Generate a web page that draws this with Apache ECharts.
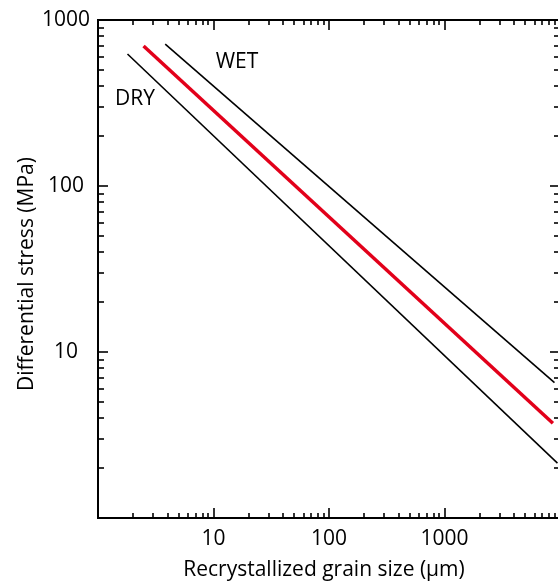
<!DOCTYPE html>
<html>
<head>
<meta charset="utf-8">
<script src="https://cdn.jsdelivr.net/npm/echarts@6/dist/echarts.min.js"></script>
<style>
  html, body { margin: 0; padding: 0; background: #fff; }
  #chart { width: 558px; height: 581px; }
</style>
</head>
<body>
<div id="chart"></div>
<script>
// Grain-size piezometer lines (log-log), end points [grain size µm, stress MPa]
const dryLine = [[1.80, 624], [9510, 2.14]];
const meanLine = [[2.48, 697], [8680, 3.72]];
const wetLine = [[3.82, 716], [8960, 6.53]];

// Axis ranges and labelled ticks
const xRange = [1, 10000];
const yRange = [1, 1000];
const xMajorTicks = [10, 100, 1000];
const yMajorTicks = [10, 100, 1000];

// Minor ticks at 2..9 of every decade inside a range
function minorTicks(lo, hi) {
  const out = [];
  for (let d = lo; d < hi; d *= 10) {
    for (let k = 2; k <= 9; k++) out.push(k * d);
  }
  return out;
}
const xMinorTicks = minorTicks(xRange[0], xRange[1]);
const yMinorTicks = minorTicks(yRange[0], yRange[1]);

const FONT = 'Open Sans';
const FS = 21;
const gridBox = { left: 98, right: -2, top: 20, bottom: 63, containLabel: false, outerBoundsMode: 'none' };

function logAxis(range, gridIndex, position, ticks, len, opts) {
  return Object.assign({
    type: 'log', logBase: 10, gridIndex, position,
    min: range[0], max: range[1],
    axisLine: { show: true, lineStyle: { color: '#000', width: 2 } },
    axisTick: { show: true, inside: true, length: len, customValues: ticks,
                lineStyle: { color: '#000', width: 1.6 } },
    axisLabel: { show: false },
    splitLine: { show: false },
    minorTick: { show: false }
  }, opts || {});
}

const chart = echarts.init(document.getElementById('chart'), null, { renderer: 'canvas' });

chart.setOption({
  animation: false,
  backgroundColor: '#fff',
  grid: [Object.assign({}, gridBox), Object.assign({}, gridBox)],
  xAxis: [
    logAxis(xRange, 0, 'bottom', xMajorTicks, 10, {
      axisLabel: {
        show: true, customValues: xMajorTicks, margin: 11,
        color: '#000', fontFamily: FONT, fontSize: FS,
        formatter: v => String(Math.round(v))
      },
      name: 'Recrystallized grain size (µm)',
      nameLocation: 'middle', nameGap: 42, nameMoveOverlap: false,
      nameTextStyle: { color: '#000', fontFamily: FONT, fontSize: FS, padding: [0, 10, 0, 0] }
    }),
    logAxis(xRange, 0, 'top', xMajorTicks, 10),
    logAxis(xRange, 1, 'bottom', xMinorTicks, 5),
    logAxis(xRange, 1, 'top', xMinorTicks, 5)
  ],
  yAxis: [
    logAxis(yRange, 0, 'left', yMajorTicks, 10, {
      axisLabel: {
        show: true, customValues: yMajorTicks, margin: 32, align: 'center',
        color: '#000', fontFamily: FONT, fontSize: FS,
        formatter: v => String(Math.round(v))
      },
      name: 'Differential stress (MPa)',
      nameLocation: 'middle', nameGap: 60, nameMoveOverlap: false,
      nameTextStyle: { color: '#000', fontFamily: FONT, fontSize: FS, padding: [0, 10, 0, 0] }
    }),
    logAxis(yRange, 0, 'right', yMajorTicks, 10),
    logAxis(yRange, 1, 'left', yMinorTicks, 6),
    logAxis(yRange, 1, 'right', yMinorTicks, 6)
  ],
  series: [
    {
      name: 'DRY', type: 'line', xAxisIndex: 0, yAxisIndex: 0,
      data: dryLine, showSymbol: false, symbol: 'none',
      lineStyle: { color: '#000', width: 1.6 }
    },
    {
      name: 'mean', type: 'line', xAxisIndex: 0, yAxisIndex: 0,
      data: meanLine, showSymbol: false, symbol: 'none',
      lineStyle: { color: '#e2001a', width: 3.5 }
    },
    {
      name: 'WET', type: 'line', xAxisIndex: 0, yAxisIndex: 0,
      data: wetLine, showSymbol: false, symbol: 'none',
      lineStyle: { color: '#000', width: 1.6 }
    }
  ],
  graphic: [
    { type: 'text', x: 237, y: 62,
      style: { text: 'WET', fill: '#000', font: FS + 'px "' + FONT + '"', align: 'center', verticalAlign: 'middle' } },
    { type: 'text', x: 135, y: 99,
      style: { text: 'DRY', fill: '#000', font: FS + 'px "' + FONT + '"', align: 'center', verticalAlign: 'middle' } }
  ]
});
</script>
</body>
</html>
